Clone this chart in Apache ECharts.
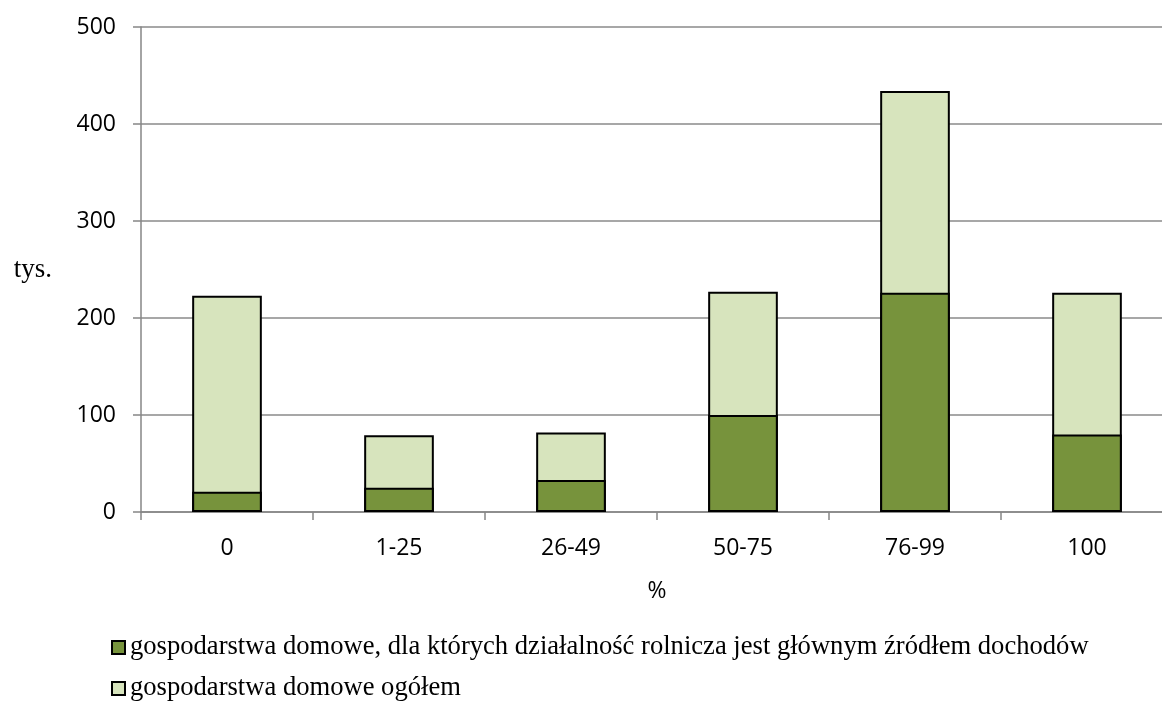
<!DOCTYPE html>
<html>
<head>
<meta charset="utf-8">
<script src="https://cdn.jsdelivr.net/npm/echarts@6/dist/echarts.min.js"></script>
<style>
  html, body { margin: 0; padding: 0; background: #fff; }
  #chart { width: 1162px; height: 702px; }
</style>
</head>
<body>
<div id="chart"></div>
<script>
// Share of farm income in household income (%), thousands of households
const categories = ['0', '1-25', '26-49', '50-75', '76-99', '100'];
const farmMainIncome = [21, 25, 33, 100, 226, 80];
const allHouseholds = [223, 79, 82, 227, 434, 226];
const yTicks = { min: 0, max: 500, interval: 100 };

const nameFarm = 'gospodarstwa domowe, dla których działalność rolnicza jest głównym źródłem dochodów';
const nameAll = 'gospodarstwa domowe ogółem';

const chart = echarts.init(document.getElementById('chart'), null, { renderer: 'canvas' });

const legendBase = {
  orient: 'horizontal',
  left: 106,
  itemWidth: 13,
  itemHeight: 13,
  itemGap: 5,
  icon: 'rect',
  textStyle: { fontFamily: 'Liberation Serif', fontSize: 26.6, color: '#000' }
};

chart.setOption({
  animation: false,
  grid: { left: 141, top: 27, width: 1032, bottom: 190, containLabel: false, outerBoundsMode: 'none' },
  legend: [
    Object.assign({}, legendBase, { top: 629, data: [nameFarm] }),
    Object.assign({}, legendBase, { top: 670, data: [nameAll] })
  ],
  xAxis: {
    type: 'category',
    data: categories,
    name: '%',
    nameLocation: 'middle',
    nameGap: 68,
    nameTextStyle: { fontFamily: 'Open Sans', fontSize: 23, color: '#000' },
    axisLine: { lineStyle: { color: '#868686', width: 1.5 } },
    axisTick: { show: true, length: 8, lineStyle: { color: '#868686', width: 1.5 } },
    axisLabel: { fontFamily: 'Open Sans', fontSize: 23, color: '#000', margin: 25 }
  },
  yAxis: {
    type: 'value',
    min: yTicks.min,
    max: yTicks.max,
    interval: yTicks.interval,
    name: 'tys.',
    nameLocation: 'middle',
    nameRotate: 0,
    nameGap: 89,
    nameTextStyle: { fontFamily: 'Liberation Serif', fontSize: 27, color: '#000', padding: [0, 0, 18, 0] },
    axisLine: { show: true, lineStyle: { color: '#868686', width: 1.5 } },
    axisTick: { show: true, length: 8, lineStyle: { color: '#868686', width: 1.5 } },
    axisLabel: { fontFamily: 'Open Sans', fontSize: 23, color: '#000', margin: 25 },
    splitLine: { lineStyle: { color: '#8a8a8a', width: 1.5 } }
  },
  series: [
    {
      name: nameAll,
      type: 'bar',
      data: allHouseholds,
      barWidth: '40.5%',
      barGap: '-100%',
      itemStyle: { color: '#D7E4BD', borderColor: '#000', borderWidth: 2 }
    },
    {
      name: nameFarm,
      type: 'bar',
      data: farmMainIncome,
      barWidth: '40.5%',
      barGap: '-100%',
      itemStyle: { color: '#77933C', borderColor: '#000', borderWidth: 2 }
    }
  ]
});
</script>
</body>
</html>
